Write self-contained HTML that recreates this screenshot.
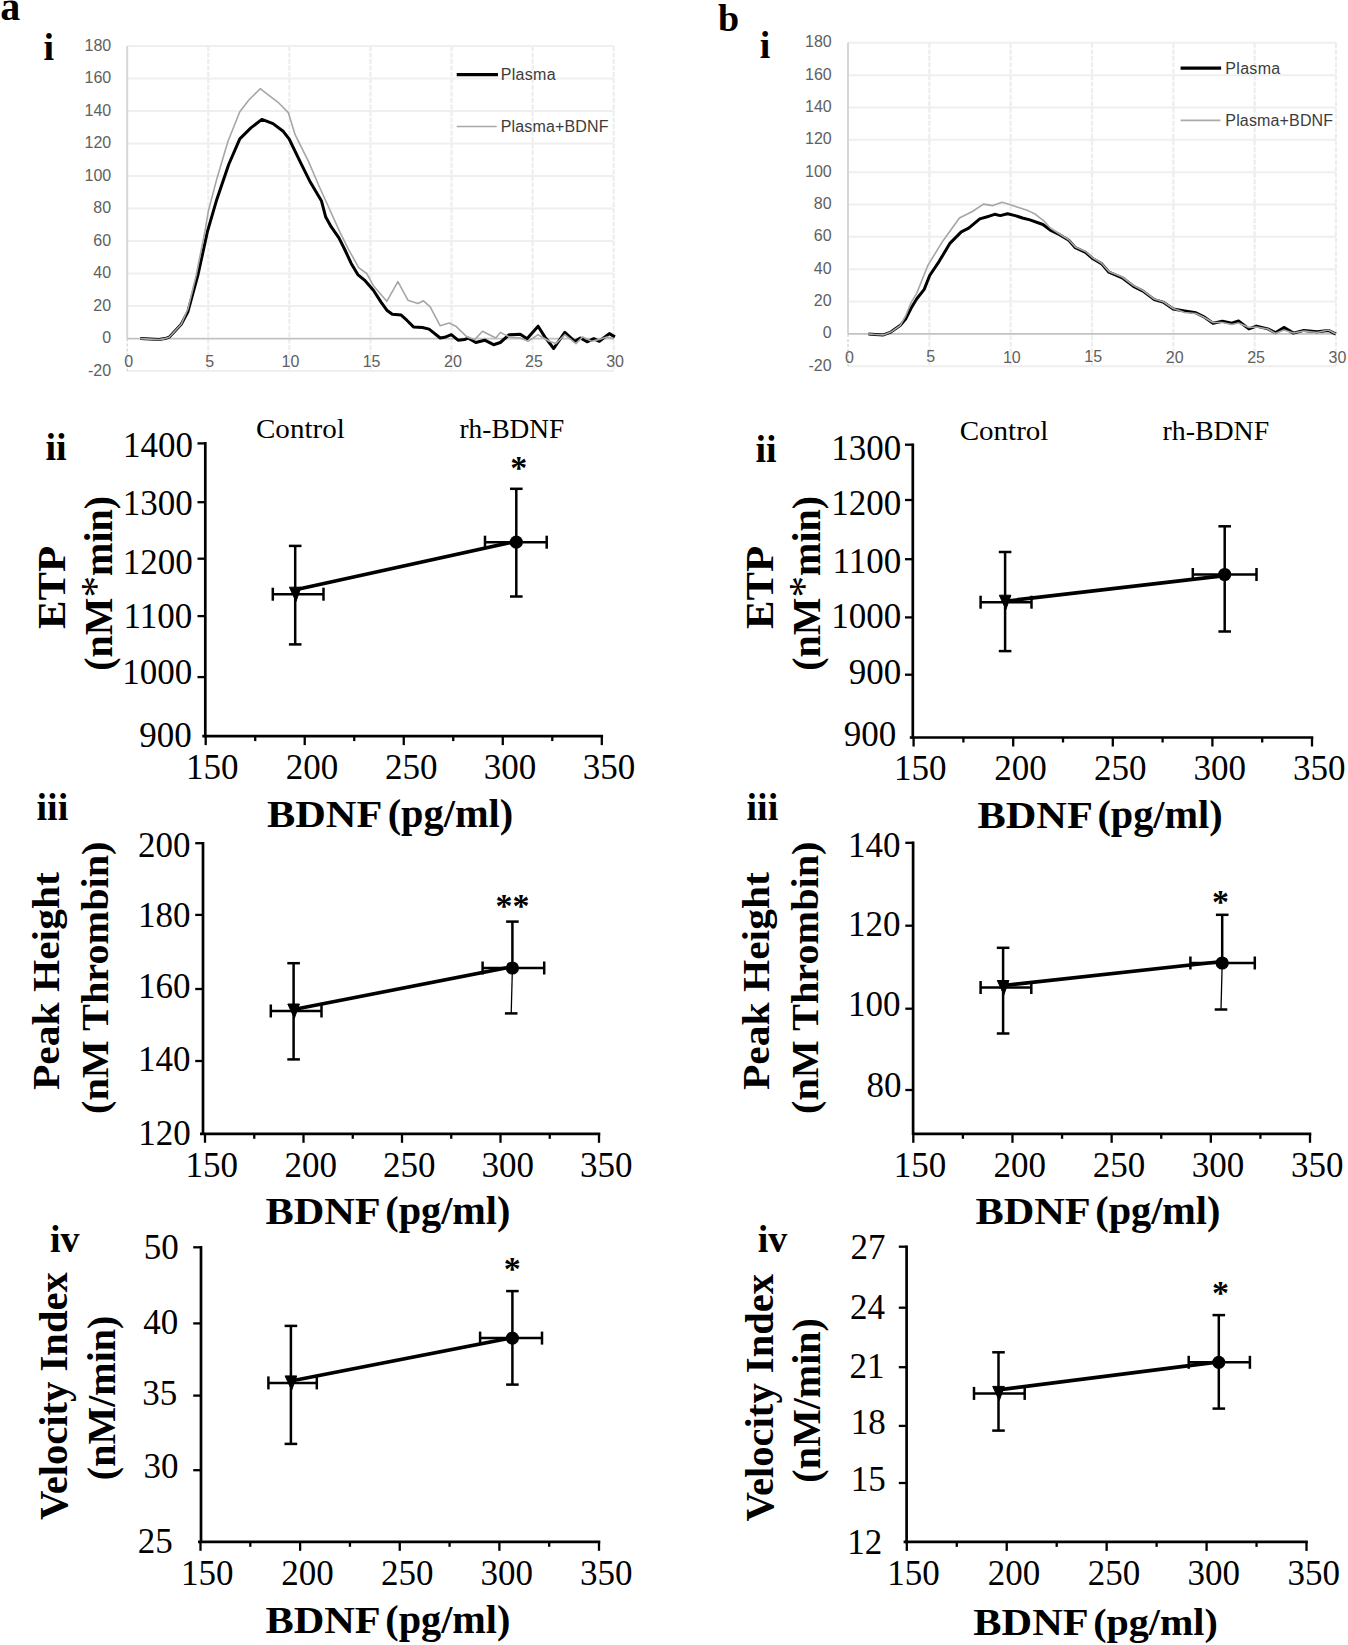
<!DOCTYPE html>
<html><head><meta charset="utf-8"><title>Figure</title>
<style>
html,body{margin:0;padding:0;background:#fff;}
body{width:1348px;height:1645px;overflow:hidden;}
svg{display:block;}

</style></head>
<body>
<div id="w"><svg width="1348" height="1645" viewBox="0 0 1348 1645">
<rect width="1348" height="1645" fill="#fff"/>
<line x1="127.2" y1="371.11" x2="613.7" y2="371.11" stroke="#efefef" stroke-width="2"/>
<line x1="127.2" y1="306.09" x2="613.7" y2="306.09" stroke="#efefef" stroke-width="2"/>
<line x1="127.2" y1="273.58" x2="613.7" y2="273.58" stroke="#efefef" stroke-width="2"/>
<line x1="127.2" y1="241.07" x2="613.7" y2="241.07" stroke="#efefef" stroke-width="2"/>
<line x1="127.2" y1="208.56" x2="613.7" y2="208.56" stroke="#efefef" stroke-width="2"/>
<line x1="127.2" y1="176.04" x2="613.7" y2="176.04" stroke="#efefef" stroke-width="2"/>
<line x1="127.2" y1="143.53" x2="613.7" y2="143.53" stroke="#efefef" stroke-width="2"/>
<line x1="127.2" y1="111.02" x2="613.7" y2="111.02" stroke="#efefef" stroke-width="2"/>
<line x1="127.2" y1="78.51" x2="613.7" y2="78.51" stroke="#efefef" stroke-width="2"/>
<line x1="127.2" y1="46" x2="613.7" y2="46" stroke="#efefef" stroke-width="2"/>
<line x1="208.28" y1="46" x2="208.28" y2="371.1" stroke="#ededed" stroke-width="2.2" stroke-dasharray="5,1.5"/>
<line x1="289.37" y1="46" x2="289.37" y2="371.1" stroke="#ededed" stroke-width="2.2" stroke-dasharray="5,1.5"/>
<line x1="370.45" y1="46" x2="370.45" y2="371.1" stroke="#ededed" stroke-width="2.2" stroke-dasharray="5,1.5"/>
<line x1="451.53" y1="46" x2="451.53" y2="371.1" stroke="#ededed" stroke-width="2.2" stroke-dasharray="5,1.5"/>
<line x1="532.62" y1="46" x2="532.62" y2="371.1" stroke="#ededed" stroke-width="2.2" stroke-dasharray="5,1.5"/>
<line x1="613.7" y1="46" x2="613.7" y2="371.1" stroke="#ededed" stroke-width="2.2" stroke-dasharray="5,1.5"/>
<line x1="127.2" y1="46" x2="127.2" y2="338.6" stroke="#d6d6d6" stroke-width="2"/>
<line x1="127.2" y1="338.6" x2="127.2" y2="371.1" stroke="#d4d4d4" stroke-width="1.3" stroke-dasharray="3,2"/>
<line x1="127.2" y1="338.6" x2="613.7" y2="338.6" stroke="#c2c2c2" stroke-width="1.7"/>
<polyline points="140.2,338.6 158.9,339.6 165,338.6 169.1,337.2 181.1,324.5 187.9,311.7 198.1,274.3 207.4,231.7 216.8,199.4 228.7,164.5 239.8,138.9 250.9,127.9 261.9,119.4 273,123.6 283.2,131.3 289.1,138.9 300.2,161.9 310.4,182.3 321.5,201.1 325.6,216.7 331.1,226.7 338.9,237.9 344.5,249 351.2,263.4 357.8,274.6 364.5,280.1 373.4,290.2 381.2,302.4 386.8,310.2 392.3,314.2 401.2,315.1 406.8,320.2 413.5,326.9 422.4,327.5 429.1,329.1 440.2,338 444.6,337.3 451.3,334.7 458,340.2 464.7,339.6 468,338 475.8,342.5 484.7,340.2 493.6,344.7 500.3,342.5 509.2,334.7 520.3,334.2 527,338.7 538.1,326.2 544.8,336.9 553.7,348.5 564.8,332.4 574.8,341.3 580.4,338 587.1,341.8 593.8,338.7 599.3,341.3 609.3,333.6 614.9,336.9" fill="none" stroke="#000" stroke-width="3" stroke-linejoin="round"/>
<polyline points="140.2,338.6 158.9,339.6 165,338.6 169.1,337.2 181.1,324.5 187.9,309 196,276 204.9,231.7 208.3,211.3 216.8,178.9 227.9,141.5 239.8,111.7 249.1,99.8 260.2,88.7 267.9,94.7 278.1,102.3 288.3,112.6 295.1,134.7 308.7,161.9 318.9,185.7 327.4,204.5 340,232.3 348.9,250.1 358.9,267.9 366.7,273.5 373.4,285.7 386.8,301.3 397.9,281.7 407.9,300.2 417.9,303.5 423.5,300.8 430.2,306.8 440.2,325.8 449.1,323.1 455.8,326.2 466.9,336.9 474.7,339.6 482.5,331.3 495.8,338 500.3,332.4 509.2,336.9 520.3,338 528.1,341.3 538.1,334.7 549.2,341.3 555.9,343.6 564.8,334.7 576,343.6 582.6,336.9 591.5,341.3 600.4,339.1 607.1,336.9 613.8,338.7" fill="none" stroke="#a6a6a6" stroke-width="1.6" stroke-linejoin="round"/>
<line x1="456.7" y1="74.7" x2="498" y2="74.7" stroke="#000" stroke-width="3.3"/>
<line x1="456.7" y1="126.5" x2="496.7" y2="126.5" stroke="#a9a9a9" stroke-width="1.7"/>
<line x1="848" y1="366.24" x2="1336" y2="366.24" stroke="#efefef" stroke-width="2"/>
<line x1="848" y1="301.56" x2="1336" y2="301.56" stroke="#efefef" stroke-width="2"/>
<line x1="848" y1="269.21" x2="1336" y2="269.21" stroke="#efefef" stroke-width="2"/>
<line x1="848" y1="236.87" x2="1336" y2="236.87" stroke="#efefef" stroke-width="2"/>
<line x1="848" y1="204.52" x2="1336" y2="204.52" stroke="#efefef" stroke-width="2"/>
<line x1="848" y1="172.18" x2="1336" y2="172.18" stroke="#efefef" stroke-width="2"/>
<line x1="848" y1="139.83" x2="1336" y2="139.83" stroke="#efefef" stroke-width="2"/>
<line x1="848" y1="107.49" x2="1336" y2="107.49" stroke="#efefef" stroke-width="2"/>
<line x1="848" y1="75.14" x2="1336" y2="75.14" stroke="#efefef" stroke-width="2"/>
<line x1="848" y1="42.8" x2="1336" y2="42.8" stroke="#efefef" stroke-width="2"/>
<line x1="929.33" y1="42.8" x2="929.33" y2="366.2" stroke="#ededed" stroke-width="2.2" stroke-dasharray="5,1.5"/>
<line x1="1010.67" y1="42.8" x2="1010.67" y2="366.2" stroke="#ededed" stroke-width="2.2" stroke-dasharray="5,1.5"/>
<line x1="1092" y1="42.8" x2="1092" y2="366.2" stroke="#ededed" stroke-width="2.2" stroke-dasharray="5,1.5"/>
<line x1="1173.33" y1="42.8" x2="1173.33" y2="366.2" stroke="#ededed" stroke-width="2.2" stroke-dasharray="5,1.5"/>
<line x1="1254.67" y1="42.8" x2="1254.67" y2="366.2" stroke="#ededed" stroke-width="2.2" stroke-dasharray="5,1.5"/>
<line x1="1336" y1="42.8" x2="1336" y2="366.2" stroke="#ededed" stroke-width="2.2" stroke-dasharray="5,1.5"/>
<line x1="848" y1="42.8" x2="848" y2="333.9" stroke="#d6d6d6" stroke-width="2"/>
<line x1="848" y1="333.9" x2="848" y2="366.2" stroke="#d4d4d4" stroke-width="1.3" stroke-dasharray="3,2"/>
<line x1="848" y1="333.9" x2="1336" y2="333.9" stroke="#c2c2c2" stroke-width="1.7"/>
<polyline points="868.5,333.9 875,334.5 883.4,334.9 890.8,332.1 900.1,325.6 905.6,319.1 911.2,308 916.8,298.7 924.2,289.4 929.7,275.5 939,261.6 950.1,243.1 961.3,231.9 968.7,228.2 979.8,218.9 989.1,216.2 994.7,214.3 1000.2,215.6 1007.6,213.8 1015.1,215.6 1022.5,218 1029.9,219.9 1042.9,224.5 1050.3,230.1 1059.6,234.7 1068.8,240.3 1075.3,247.7 1085.5,252.3 1093,258.8 1101.4,263.6 1108.9,272.2 1122.2,277.8 1133.5,286.3 1143,291.1 1154.3,299.6 1163.8,302.4 1173.2,309 1184.6,310.9 1195.9,312.8 1203.5,316.6 1213,323.2 1222.4,321.3 1231.9,323.2 1238.5,321 1248.9,328.9 1256.5,326.1 1267.8,328.9 1275.4,332.7 1283.9,327.4 1293.4,333.1 1303.8,330.4 1317,331.8 1328.4,330.4 1335.9,334.2" fill="none" stroke="#000" stroke-width="3" stroke-linejoin="round"/>
<polyline points="868.5,333.9 875,334.5 883.4,334.9 890.8,332.1 900.1,325.6 905.6,316 911.2,302.4 916.8,293.1 927.9,265.3 942.7,241.2 959.4,218 972.4,211.5 983.5,204.1 992.8,205.6 1002.1,202.3 1011.3,205 1016.9,206.9 1028,210.6 1035.5,214.3 1044.7,221.7 1050.3,228 1059.6,234 1068.8,239.8 1075.3,247 1085.5,251.5 1093,258 1101.4,263 1108.9,271.5 1122.2,277 1133.5,285.5 1143,290.5 1154.3,299 1163.8,302 1173.2,308.5 1184.6,312.5 1195.9,313.5 1203.5,317 1213,322.5 1222.4,322.5 1231.9,324.5 1238.5,323 1248.9,327.5 1256.5,327 1267.8,329 1275.4,333.5 1283.9,330 1293.4,333 1303.8,331 1317,332.5 1328.4,330 1335.9,334" fill="none" stroke="#a6a6a6" stroke-width="1.6" stroke-linejoin="round"/>
<line x1="1180.6" y1="68.1" x2="1221.1" y2="68.1" stroke="#000" stroke-width="3.3"/>
<line x1="1180.6" y1="120.3" x2="1220.4" y2="120.3" stroke="#a9a9a9" stroke-width="1.7"/>
<line x1="205.3" y1="442.1" x2="205.3" y2="737.4" stroke="#000" stroke-width="2.7"/>
<line x1="202.3" y1="736.1" x2="603.1" y2="736.1" stroke="#000" stroke-width="2.7"/>
<line x1="197.5" y1="443.4" x2="205.3" y2="443.4" stroke="#000" stroke-width="2.3"/>
<line x1="197.5" y1="502.2" x2="205.3" y2="502.2" stroke="#000" stroke-width="2.3"/>
<line x1="197.5" y1="558.7" x2="205.3" y2="558.7" stroke="#000" stroke-width="2.3"/>
<line x1="197.5" y1="616.1" x2="205.3" y2="616.1" stroke="#000" stroke-width="2.3"/>
<line x1="197.5" y1="677.1" x2="205.3" y2="677.1" stroke="#000" stroke-width="2.3"/>
<line x1="205.7" y1="736.1" x2="205.7" y2="745.1" stroke="#000" stroke-width="2.3"/>
<line x1="255.21" y1="736.1" x2="255.21" y2="741.1" stroke="#000" stroke-width="2.3"/>
<line x1="304.72" y1="736.1" x2="304.72" y2="745.1" stroke="#000" stroke-width="2.3"/>
<line x1="354.24" y1="736.1" x2="354.24" y2="741.1" stroke="#000" stroke-width="2.3"/>
<line x1="403.75" y1="736.1" x2="403.75" y2="745.1" stroke="#000" stroke-width="2.3"/>
<line x1="453.26" y1="736.1" x2="453.26" y2="741.1" stroke="#000" stroke-width="2.3"/>
<line x1="502.77" y1="736.1" x2="502.77" y2="745.1" stroke="#000" stroke-width="2.3"/>
<line x1="552.29" y1="736.1" x2="552.29" y2="741.1" stroke="#000" stroke-width="2.3"/>
<line x1="601.8" y1="736.1" x2="601.8" y2="745.1" stroke="#000" stroke-width="2.3"/>
<line x1="295.5" y1="589.7" x2="516.3" y2="541.3" stroke="#000" stroke-width="3.6"/>
<line x1="295.2" y1="545.9" x2="295.2" y2="644.4" stroke="#000" stroke-width="2.5"/>
<line x1="288.9" y1="644.4" x2="301.5" y2="644.4" stroke="#000" stroke-width="2.5"/>
<line x1="288.9" y1="545.9" x2="301.5" y2="545.9" stroke="#000" stroke-width="2.5"/>
<line x1="272.8" y1="594.2" x2="323.5" y2="594.2" stroke="#000" stroke-width="2.5"/>
<line x1="272.8" y1="587.7" x2="272.8" y2="600.7" stroke="#000" stroke-width="2.5"/>
<line x1="323.5" y1="587.7" x2="323.5" y2="600.7" stroke="#000" stroke-width="2.5"/>
<line x1="516.3" y1="488.8" x2="516.3" y2="596.5" stroke="#000" stroke-width="2.5"/>
<line x1="510" y1="596.5" x2="522.6" y2="596.5" stroke="#000" stroke-width="2.5"/>
<line x1="510" y1="488.8" x2="522.6" y2="488.8" stroke="#000" stroke-width="2.5"/>
<line x1="485" y1="542.2" x2="546.7" y2="542.2" stroke="#000" stroke-width="2.5"/>
<line x1="485" y1="535.7" x2="485" y2="548.7" stroke="#000" stroke-width="2.5"/>
<line x1="546.7" y1="535.7" x2="546.7" y2="548.7" stroke="#000" stroke-width="2.5"/>
<path d="M289.4,587.2 L301,587.2 L296,601.4 Z" fill="#000" stroke="#000" stroke-width="1" stroke-linejoin="round"/>
<circle cx="516.3" cy="542.2" r="6.6" fill="#000"/>
<line x1="203" y1="841.9" x2="203" y2="1135.1" stroke="#000" stroke-width="2.7"/>
<line x1="200" y1="1133.8" x2="600.3" y2="1133.8" stroke="#000" stroke-width="2.7"/>
<line x1="195.2" y1="843.2" x2="203" y2="843.2" stroke="#000" stroke-width="2.3"/>
<line x1="195.2" y1="914.9" x2="203" y2="914.9" stroke="#000" stroke-width="2.3"/>
<line x1="195.2" y1="989" x2="203" y2="989" stroke="#000" stroke-width="2.3"/>
<line x1="195.2" y1="1061" x2="203" y2="1061" stroke="#000" stroke-width="2.3"/>
<line x1="205" y1="1133.8" x2="205" y2="1142.8" stroke="#000" stroke-width="2.3"/>
<line x1="254.25" y1="1133.8" x2="254.25" y2="1138.8" stroke="#000" stroke-width="2.3"/>
<line x1="303.5" y1="1133.8" x2="303.5" y2="1142.8" stroke="#000" stroke-width="2.3"/>
<line x1="352.75" y1="1133.8" x2="352.75" y2="1138.8" stroke="#000" stroke-width="2.3"/>
<line x1="402" y1="1133.8" x2="402" y2="1142.8" stroke="#000" stroke-width="2.3"/>
<line x1="451.25" y1="1133.8" x2="451.25" y2="1138.8" stroke="#000" stroke-width="2.3"/>
<line x1="500.5" y1="1133.8" x2="500.5" y2="1142.8" stroke="#000" stroke-width="2.3"/>
<line x1="549.75" y1="1133.8" x2="549.75" y2="1138.8" stroke="#000" stroke-width="2.3"/>
<line x1="599" y1="1133.8" x2="599" y2="1142.8" stroke="#000" stroke-width="2.3"/>
<line x1="293.6" y1="1009.6" x2="512.4" y2="966.6" stroke="#000" stroke-width="3.6"/>
<line x1="293.6" y1="963.2" x2="293.6" y2="1059.4" stroke="#000" stroke-width="2.5"/>
<line x1="287.3" y1="1059.4" x2="299.9" y2="1059.4" stroke="#000" stroke-width="2.5"/>
<line x1="287.3" y1="963.2" x2="299.9" y2="963.2" stroke="#000" stroke-width="2.5"/>
<line x1="270.8" y1="1011" x2="321.5" y2="1011" stroke="#000" stroke-width="2.5"/>
<line x1="270.8" y1="1004.5" x2="270.8" y2="1017.5" stroke="#000" stroke-width="2.5"/>
<line x1="321.5" y1="1004.5" x2="321.5" y2="1017.5" stroke="#000" stroke-width="2.5"/>
<line x1="512.4" y1="921.6" x2="512.4" y2="968" stroke="#000" stroke-width="2.5"/>
<line x1="512.4" y1="968" x2="511.2" y2="1013.4" stroke="#000" stroke-width="1.3"/>
<line x1="504.9" y1="1013.4" x2="517.5" y2="1013.4" stroke="#000" stroke-width="2.5"/>
<line x1="506.1" y1="921.6" x2="518.7" y2="921.6" stroke="#000" stroke-width="2.5"/>
<line x1="482.6" y1="968" x2="544.2" y2="968" stroke="#000" stroke-width="2.5"/>
<line x1="482.6" y1="961.5" x2="482.6" y2="974.5" stroke="#000" stroke-width="2.5"/>
<line x1="544.2" y1="961.5" x2="544.2" y2="974.5" stroke="#000" stroke-width="2.5"/>
<path d="M287.8,1004 L299.4,1004 L294.4,1018.2 Z" fill="#000" stroke="#000" stroke-width="1" stroke-linejoin="round"/>
<circle cx="512.4" cy="968" r="6.6" fill="#000"/>
<line x1="201" y1="1246" x2="201" y2="1543.1" stroke="#000" stroke-width="2.7"/>
<line x1="198" y1="1541.8" x2="600.3" y2="1541.8" stroke="#000" stroke-width="2.7"/>
<line x1="193.2" y1="1247.3" x2="201" y2="1247.3" stroke="#000" stroke-width="2.3"/>
<line x1="193.2" y1="1323.4" x2="201" y2="1323.4" stroke="#000" stroke-width="2.3"/>
<line x1="193.2" y1="1395.6" x2="201" y2="1395.6" stroke="#000" stroke-width="2.3"/>
<line x1="193.2" y1="1470.2" x2="201" y2="1470.2" stroke="#000" stroke-width="2.3"/>
<line x1="200.5" y1="1541.8" x2="200.5" y2="1550.8" stroke="#000" stroke-width="2.3"/>
<line x1="250.31" y1="1541.8" x2="250.31" y2="1546.8" stroke="#000" stroke-width="2.3"/>
<line x1="300.12" y1="1541.8" x2="300.12" y2="1550.8" stroke="#000" stroke-width="2.3"/>
<line x1="349.94" y1="1541.8" x2="349.94" y2="1546.8" stroke="#000" stroke-width="2.3"/>
<line x1="399.75" y1="1541.8" x2="399.75" y2="1550.8" stroke="#000" stroke-width="2.3"/>
<line x1="449.56" y1="1541.8" x2="449.56" y2="1546.8" stroke="#000" stroke-width="2.3"/>
<line x1="499.38" y1="1541.8" x2="499.38" y2="1550.8" stroke="#000" stroke-width="2.3"/>
<line x1="549.19" y1="1541.8" x2="549.19" y2="1546.8" stroke="#000" stroke-width="2.3"/>
<line x1="599" y1="1541.8" x2="599" y2="1550.8" stroke="#000" stroke-width="2.3"/>
<line x1="290.9" y1="1381.1" x2="512.4" y2="1337.6" stroke="#000" stroke-width="3.6"/>
<line x1="290.9" y1="1325.9" x2="290.9" y2="1443.9" stroke="#000" stroke-width="2.5"/>
<line x1="284.6" y1="1443.9" x2="297.2" y2="1443.9" stroke="#000" stroke-width="2.5"/>
<line x1="284.6" y1="1325.9" x2="297.2" y2="1325.9" stroke="#000" stroke-width="2.5"/>
<line x1="268.4" y1="1382.9" x2="316.8" y2="1382.9" stroke="#000" stroke-width="2.5"/>
<line x1="268.4" y1="1376.4" x2="268.4" y2="1389.4" stroke="#000" stroke-width="2.5"/>
<line x1="316.8" y1="1376.4" x2="316.8" y2="1389.4" stroke="#000" stroke-width="2.5"/>
<line x1="512.4" y1="1291.1" x2="512.4" y2="1384.6" stroke="#000" stroke-width="2.5"/>
<line x1="506.1" y1="1384.6" x2="518.7" y2="1384.6" stroke="#000" stroke-width="2.5"/>
<line x1="506.1" y1="1291.1" x2="518.7" y2="1291.1" stroke="#000" stroke-width="2.5"/>
<line x1="480.1" y1="1338.1" x2="542" y2="1338.1" stroke="#000" stroke-width="2.5"/>
<line x1="480.1" y1="1331.6" x2="480.1" y2="1344.6" stroke="#000" stroke-width="2.5"/>
<line x1="542" y1="1331.6" x2="542" y2="1344.6" stroke="#000" stroke-width="2.5"/>
<path d="M285.1,1375.9 L296.7,1375.9 L291.7,1390.1 Z" fill="#000" stroke="#000" stroke-width="1" stroke-linejoin="round"/>
<circle cx="512.4" cy="1338.1" r="6.6" fill="#000"/>
<line x1="912.8" y1="443.4" x2="912.8" y2="738.8" stroke="#000" stroke-width="2.7"/>
<line x1="909.8" y1="737.5" x2="1313.3" y2="737.5" stroke="#000" stroke-width="2.7"/>
<line x1="905" y1="444.7" x2="912.8" y2="444.7" stroke="#000" stroke-width="2.3"/>
<line x1="905" y1="500" x2="912.8" y2="500" stroke="#000" stroke-width="2.3"/>
<line x1="905" y1="559.2" x2="912.8" y2="559.2" stroke="#000" stroke-width="2.3"/>
<line x1="905" y1="617.4" x2="912.8" y2="617.4" stroke="#000" stroke-width="2.3"/>
<line x1="905" y1="674.7" x2="912.8" y2="674.7" stroke="#000" stroke-width="2.3"/>
<line x1="913.6" y1="737.5" x2="913.6" y2="746.5" stroke="#000" stroke-width="2.3"/>
<line x1="963.4" y1="737.5" x2="963.4" y2="742.5" stroke="#000" stroke-width="2.3"/>
<line x1="1013.2" y1="737.5" x2="1013.2" y2="746.5" stroke="#000" stroke-width="2.3"/>
<line x1="1063" y1="737.5" x2="1063" y2="742.5" stroke="#000" stroke-width="2.3"/>
<line x1="1112.8" y1="737.5" x2="1112.8" y2="746.5" stroke="#000" stroke-width="2.3"/>
<line x1="1162.6" y1="737.5" x2="1162.6" y2="742.5" stroke="#000" stroke-width="2.3"/>
<line x1="1212.4" y1="737.5" x2="1212.4" y2="746.5" stroke="#000" stroke-width="2.3"/>
<line x1="1262.2" y1="737.5" x2="1262.2" y2="742.5" stroke="#000" stroke-width="2.3"/>
<line x1="1312" y1="737.5" x2="1312" y2="746.5" stroke="#000" stroke-width="2.3"/>
<line x1="1005.1" y1="601.2" x2="1224.7" y2="575.6" stroke="#000" stroke-width="3.6"/>
<line x1="1005.1" y1="552" x2="1005.1" y2="651.1" stroke="#000" stroke-width="2.5"/>
<line x1="998.8" y1="651.1" x2="1011.4" y2="651.1" stroke="#000" stroke-width="2.5"/>
<line x1="998.8" y1="552" x2="1011.4" y2="552" stroke="#000" stroke-width="2.5"/>
<line x1="980.6" y1="602.2" x2="1031.5" y2="602.2" stroke="#000" stroke-width="2.5"/>
<line x1="980.6" y1="595.7" x2="980.6" y2="608.7" stroke="#000" stroke-width="2.5"/>
<line x1="1031.5" y1="595.7" x2="1031.5" y2="608.7" stroke="#000" stroke-width="2.5"/>
<line x1="1224.7" y1="526.3" x2="1224.7" y2="631.5" stroke="#000" stroke-width="2.5"/>
<line x1="1218.4" y1="631.5" x2="1231" y2="631.5" stroke="#000" stroke-width="2.5"/>
<line x1="1218.4" y1="526.3" x2="1231" y2="526.3" stroke="#000" stroke-width="2.5"/>
<line x1="1192.8" y1="574.5" x2="1256.5" y2="574.5" stroke="#000" stroke-width="2.5"/>
<line x1="1192.8" y1="568" x2="1192.8" y2="581" stroke="#000" stroke-width="2.5"/>
<line x1="1256.5" y1="568" x2="1256.5" y2="581" stroke="#000" stroke-width="2.5"/>
<path d="M999.3,595.2 L1010.9,595.2 L1005.9,609.4 Z" fill="#000" stroke="#000" stroke-width="1" stroke-linejoin="round"/>
<circle cx="1224.7" cy="574.5" r="6.6" fill="#000"/>
<line x1="913.1" y1="841.5" x2="913.1" y2="1135.1" stroke="#000" stroke-width="2.7"/>
<line x1="913.1" y1="1133.8" x2="1311.3" y2="1133.8" stroke="#000" stroke-width="2.7"/>
<line x1="905.3" y1="842.8" x2="913.1" y2="842.8" stroke="#000" stroke-width="2.3"/>
<line x1="905.3" y1="925.7" x2="913.1" y2="925.7" stroke="#000" stroke-width="2.3"/>
<line x1="905.3" y1="1008.7" x2="913.1" y2="1008.7" stroke="#000" stroke-width="2.3"/>
<line x1="905.3" y1="1090" x2="913.1" y2="1090" stroke="#000" stroke-width="2.3"/>
<line x1="913.3" y1="1133.8" x2="913.3" y2="1142.8" stroke="#000" stroke-width="2.3"/>
<line x1="962.89" y1="1133.8" x2="962.89" y2="1138.8" stroke="#000" stroke-width="2.3"/>
<line x1="1012.47" y1="1133.8" x2="1012.47" y2="1142.8" stroke="#000" stroke-width="2.3"/>
<line x1="1062.06" y1="1133.8" x2="1062.06" y2="1138.8" stroke="#000" stroke-width="2.3"/>
<line x1="1111.65" y1="1133.8" x2="1111.65" y2="1142.8" stroke="#000" stroke-width="2.3"/>
<line x1="1161.24" y1="1133.8" x2="1161.24" y2="1138.8" stroke="#000" stroke-width="2.3"/>
<line x1="1210.83" y1="1133.8" x2="1210.83" y2="1142.8" stroke="#000" stroke-width="2.3"/>
<line x1="1260.41" y1="1133.8" x2="1260.41" y2="1138.8" stroke="#000" stroke-width="2.3"/>
<line x1="1310" y1="1133.8" x2="1310" y2="1142.8" stroke="#000" stroke-width="2.3"/>
<line x1="1003.1" y1="985.5" x2="1222.2" y2="961.5" stroke="#000" stroke-width="3.6"/>
<line x1="1003.1" y1="947.8" x2="1003.1" y2="1033.5" stroke="#000" stroke-width="2.5"/>
<line x1="996.8" y1="1033.5" x2="1009.4" y2="1033.5" stroke="#000" stroke-width="2.5"/>
<line x1="996.8" y1="947.8" x2="1009.4" y2="947.8" stroke="#000" stroke-width="2.5"/>
<line x1="980.6" y1="987.5" x2="1031.3" y2="987.5" stroke="#000" stroke-width="2.5"/>
<line x1="980.6" y1="981" x2="980.6" y2="994" stroke="#000" stroke-width="2.5"/>
<line x1="1031.3" y1="981" x2="1031.3" y2="994" stroke="#000" stroke-width="2.5"/>
<line x1="1222.2" y1="914.8" x2="1222.2" y2="963" stroke="#000" stroke-width="2.5"/>
<line x1="1222.2" y1="963" x2="1221" y2="1009.5" stroke="#000" stroke-width="1.3"/>
<line x1="1214.7" y1="1009.5" x2="1227.3" y2="1009.5" stroke="#000" stroke-width="2.5"/>
<line x1="1215.9" y1="914.8" x2="1228.5" y2="914.8" stroke="#000" stroke-width="2.5"/>
<line x1="1190.4" y1="963" x2="1254.8" y2="963" stroke="#000" stroke-width="2.5"/>
<line x1="1190.4" y1="956.5" x2="1190.4" y2="969.5" stroke="#000" stroke-width="2.5"/>
<line x1="1254.8" y1="956.5" x2="1254.8" y2="969.5" stroke="#000" stroke-width="2.5"/>
<path d="M997.3,980.5 L1008.9,980.5 L1003.9,994.7 Z" fill="#000" stroke="#000" stroke-width="1" stroke-linejoin="round"/>
<circle cx="1222.2" cy="963" r="6.6" fill="#000"/>
<line x1="906.6" y1="1245.4" x2="906.6" y2="1543.2" stroke="#000" stroke-width="2.7"/>
<line x1="903.6" y1="1541.9" x2="1307.8" y2="1541.9" stroke="#000" stroke-width="2.7"/>
<line x1="898.8" y1="1246.7" x2="906.6" y2="1246.7" stroke="#000" stroke-width="2.3"/>
<line x1="898.8" y1="1307.7" x2="906.6" y2="1307.7" stroke="#000" stroke-width="2.3"/>
<line x1="898.8" y1="1367.2" x2="906.6" y2="1367.2" stroke="#000" stroke-width="2.3"/>
<line x1="898.8" y1="1425.9" x2="906.6" y2="1425.9" stroke="#000" stroke-width="2.3"/>
<line x1="898.8" y1="1483" x2="906.6" y2="1483" stroke="#000" stroke-width="2.3"/>
<line x1="906.8" y1="1541.9" x2="906.8" y2="1550.9" stroke="#000" stroke-width="2.3"/>
<line x1="956.76" y1="1541.9" x2="956.76" y2="1546.9" stroke="#000" stroke-width="2.3"/>
<line x1="1006.72" y1="1541.9" x2="1006.72" y2="1550.9" stroke="#000" stroke-width="2.3"/>
<line x1="1056.69" y1="1541.9" x2="1056.69" y2="1546.9" stroke="#000" stroke-width="2.3"/>
<line x1="1106.65" y1="1541.9" x2="1106.65" y2="1550.9" stroke="#000" stroke-width="2.3"/>
<line x1="1156.61" y1="1541.9" x2="1156.61" y2="1546.9" stroke="#000" stroke-width="2.3"/>
<line x1="1206.58" y1="1541.9" x2="1206.58" y2="1550.9" stroke="#000" stroke-width="2.3"/>
<line x1="1256.54" y1="1541.9" x2="1256.54" y2="1546.9" stroke="#000" stroke-width="2.3"/>
<line x1="1306.5" y1="1541.9" x2="1306.5" y2="1550.9" stroke="#000" stroke-width="2.3"/>
<line x1="998.5" y1="1389.9" x2="1218.8" y2="1361.9" stroke="#000" stroke-width="3.6"/>
<line x1="998.5" y1="1352.3" x2="998.5" y2="1430.6" stroke="#000" stroke-width="2.5"/>
<line x1="992.2" y1="1430.6" x2="1004.8" y2="1430.6" stroke="#000" stroke-width="2.5"/>
<line x1="992.2" y1="1352.3" x2="1004.8" y2="1352.3" stroke="#000" stroke-width="2.5"/>
<line x1="974" y1="1393.4" x2="1024.7" y2="1393.4" stroke="#000" stroke-width="2.5"/>
<line x1="974" y1="1386.9" x2="974" y2="1399.9" stroke="#000" stroke-width="2.5"/>
<line x1="1024.7" y1="1386.9" x2="1024.7" y2="1399.9" stroke="#000" stroke-width="2.5"/>
<line x1="1218.8" y1="1315.1" x2="1218.8" y2="1408.6" stroke="#000" stroke-width="2.5"/>
<line x1="1212.5" y1="1408.6" x2="1225.1" y2="1408.6" stroke="#000" stroke-width="2.5"/>
<line x1="1212.5" y1="1315.1" x2="1225.1" y2="1315.1" stroke="#000" stroke-width="2.5"/>
<line x1="1188.7" y1="1362.3" x2="1249.9" y2="1362.3" stroke="#000" stroke-width="2.5"/>
<line x1="1188.7" y1="1355.8" x2="1188.7" y2="1368.8" stroke="#000" stroke-width="2.5"/>
<line x1="1249.9" y1="1355.8" x2="1249.9" y2="1368.8" stroke="#000" stroke-width="2.5"/>
<path d="M992.7,1386.4 L1004.3,1386.4 L999.3,1400.6 Z" fill="#000" stroke="#000" stroke-width="1" stroke-linejoin="round"/>
<circle cx="1218.8" cy="1362.3" r="6.6" fill="#000"/>
<text x="88" y="375.61" style='font-family:"Liberation Sans", sans-serif;font-size:16px;font-weight:normal;fill:#606060;'>-20</text>
<text x="102.25" y="343.1" style='font-family:"Liberation Sans", sans-serif;font-size:16px;font-weight:normal;fill:#606060;'>0</text>
<text x="93.25" y="310.59" style='font-family:"Liberation Sans", sans-serif;font-size:16px;font-weight:normal;fill:#606060;'>20</text>
<text x="93.25" y="278.08" style='font-family:"Liberation Sans", sans-serif;font-size:16px;font-weight:normal;fill:#606060;'>40</text>
<text x="93.25" y="245.57" style='font-family:"Liberation Sans", sans-serif;font-size:16px;font-weight:normal;fill:#606060;'>60</text>
<text x="93.25" y="213.06" style='font-family:"Liberation Sans", sans-serif;font-size:16px;font-weight:normal;fill:#606060;'>80</text>
<text x="84.5" y="180.54" style='font-family:"Liberation Sans", sans-serif;font-size:16px;font-weight:normal;fill:#606060;'>100</text>
<text x="84.5" y="148.03" style='font-family:"Liberation Sans", sans-serif;font-size:16px;font-weight:normal;fill:#606060;'>120</text>
<text x="84.5" y="115.52" style='font-family:"Liberation Sans", sans-serif;font-size:16px;font-weight:normal;fill:#606060;'>140</text>
<text x="84.5" y="83.01" style='font-family:"Liberation Sans", sans-serif;font-size:16px;font-weight:normal;fill:#606060;'>160</text>
<text x="84.5" y="50.5" style='font-family:"Liberation Sans", sans-serif;font-size:16px;font-weight:normal;fill:#606060;'>180</text>
<text x="124.2" y="367.3" style='font-family:"Liberation Sans", sans-serif;font-size:16px;font-weight:normal;fill:#606060;'>0</text>
<text x="205.28" y="367.18" style='font-family:"Liberation Sans", sans-serif;font-size:16px;font-weight:normal;fill:#606060;'>5</text>
<text x="281.62" y="367.3" style='font-family:"Liberation Sans", sans-serif;font-size:16px;font-weight:normal;fill:#606060;'>10</text>
<text x="362.7" y="367.18" style='font-family:"Liberation Sans", sans-serif;font-size:16px;font-weight:normal;fill:#606060;'>15</text>
<text x="444.03" y="367.3" style='font-family:"Liberation Sans", sans-serif;font-size:16px;font-weight:normal;fill:#606060;'>20</text>
<text x="525.12" y="367.3" style='font-family:"Liberation Sans", sans-serif;font-size:16px;font-weight:normal;fill:#606060;'>25</text>
<text x="606.2" y="367.3" style='font-family:"Liberation Sans", sans-serif;font-size:16px;font-weight:normal;fill:#606060;'>30</text>
<text x="500.75" y="79.6" style='font-family:"Liberation Sans", sans-serif;font-size:16px;font-weight:normal;fill:#3c3c3c;letter-spacing:0.3px;'>Plasma</text>
<text x="500.75" y="131.6" style='font-family:"Liberation Sans", sans-serif;font-size:16px;font-weight:normal;fill:#3c3c3c;letter-spacing:0.15px;'>Plasma+BDNF</text>
<text x="808.5" y="370.74" style='font-family:"Liberation Sans", sans-serif;font-size:16px;font-weight:normal;fill:#606060;'>-20</text>
<text x="822.75" y="338.4" style='font-family:"Liberation Sans", sans-serif;font-size:16px;font-weight:normal;fill:#606060;'>0</text>
<text x="813.75" y="306.06" style='font-family:"Liberation Sans", sans-serif;font-size:16px;font-weight:normal;fill:#606060;'>20</text>
<text x="813.75" y="273.71" style='font-family:"Liberation Sans", sans-serif;font-size:16px;font-weight:normal;fill:#606060;'>40</text>
<text x="813.75" y="241.37" style='font-family:"Liberation Sans", sans-serif;font-size:16px;font-weight:normal;fill:#606060;'>60</text>
<text x="813.75" y="209.02" style='font-family:"Liberation Sans", sans-serif;font-size:16px;font-weight:normal;fill:#606060;'>80</text>
<text x="805" y="176.68" style='font-family:"Liberation Sans", sans-serif;font-size:16px;font-weight:normal;fill:#606060;'>100</text>
<text x="805" y="144.33" style='font-family:"Liberation Sans", sans-serif;font-size:16px;font-weight:normal;fill:#606060;'>120</text>
<text x="805" y="111.99" style='font-family:"Liberation Sans", sans-serif;font-size:16px;font-weight:normal;fill:#606060;'>140</text>
<text x="805" y="79.64" style='font-family:"Liberation Sans", sans-serif;font-size:16px;font-weight:normal;fill:#606060;'>160</text>
<text x="805" y="47.3" style='font-family:"Liberation Sans", sans-serif;font-size:16px;font-weight:normal;fill:#606060;'>180</text>
<text x="845" y="362.6" style='font-family:"Liberation Sans", sans-serif;font-size:16px;font-weight:normal;fill:#606060;'>0</text>
<text x="926.33" y="362.47" style='font-family:"Liberation Sans", sans-serif;font-size:16px;font-weight:normal;fill:#606060;'>5</text>
<text x="1002.92" y="362.6" style='font-family:"Liberation Sans", sans-serif;font-size:16px;font-weight:normal;fill:#606060;'>10</text>
<text x="1084.25" y="362.47" style='font-family:"Liberation Sans", sans-serif;font-size:16px;font-weight:normal;fill:#606060;'>15</text>
<text x="1165.83" y="362.6" style='font-family:"Liberation Sans", sans-serif;font-size:16px;font-weight:normal;fill:#606060;'>20</text>
<text x="1247.17" y="362.6" style='font-family:"Liberation Sans", sans-serif;font-size:16px;font-weight:normal;fill:#606060;'>25</text>
<text x="1328.5" y="362.6" style='font-family:"Liberation Sans", sans-serif;font-size:16px;font-weight:normal;fill:#606060;'>30</text>
<text x="1225.35" y="73.75" style='font-family:"Liberation Sans", sans-serif;font-size:16px;font-weight:normal;fill:#3c3c3c;letter-spacing:0.3px;'>Plasma</text>
<text x="1225.35" y="125.55" style='font-family:"Liberation Sans", sans-serif;font-size:16px;font-weight:normal;fill:#3c3c3c;letter-spacing:0.15px;'>Plasma+BDNF</text>
<text x="0.25" y="20.3" style='font-family:"Liberation Serif", serif;font-size:40px;font-weight:bold;fill:#000;'>a</text>
<text x="718" y="31.3" style='font-family:"Liberation Serif", serif;font-size:38px;font-weight:bold;fill:#000;'>b</text>
<text x="43.45" y="60" style='font-family:"Liberation Serif", serif;font-size:38px;font-weight:bold;fill:#000;'>i</text>
<text x="759.75" y="57.9" style='font-family:"Liberation Serif", serif;font-size:38px;font-weight:bold;fill:#000;'>i</text>
<text x="45.55" y="459.7" style='font-family:"Liberation Serif", serif;font-size:38px;font-weight:bold;fill:#000;'>ii</text>
<text x="755.55" y="462.3" style='font-family:"Liberation Serif", serif;font-size:38px;font-weight:bold;fill:#000;'>ii</text>
<text x="36.55" y="820.4" style='font-family:"Liberation Serif", serif;font-size:38px;font-weight:bold;fill:#000;'>iii</text>
<text x="746.55" y="820.4" style='font-family:"Liberation Serif", serif;font-size:38px;font-weight:bold;fill:#000;'>iii</text>
<text x="50.05" y="1252.4" style='font-family:"Liberation Serif", serif;font-size:38px;font-weight:bold;fill:#000;'>iv</text>
<text x="757.75" y="1252.4" style='font-family:"Liberation Serif", serif;font-size:38px;font-weight:bold;fill:#000;'>iv</text>
<text transform="translate(256,438) scale(1.0376,1)" style='font-family:"Liberation Serif", serif;font-size:28px;font-weight:normal;fill:#000;'>Control</text>
<text transform="translate(459.51,438) scale(0.9768,1)" style='font-family:"Liberation Serif", serif;font-size:28px;font-weight:normal;fill:#000;'>rh-BDNF</text>
<text transform="translate(959.7,440.4) scale(1.0376,1)" style='font-family:"Liberation Serif", serif;font-size:28px;font-weight:normal;fill:#000;'>Control</text>
<text transform="translate(1162.5,440.4) scale(0.9948,1)" style='font-family:"Liberation Serif", serif;font-size:28px;font-weight:normal;fill:#000;'>rh-BDNF</text>
<text x="186.07" y="778.9" style='font-family:"Liberation Serif", serif;font-size:35px;font-weight:normal;fill:#000;'>150</text>
<text x="285.85" y="778.9" style='font-family:"Liberation Serif", serif;font-size:35px;font-weight:normal;fill:#000;'>200</text>
<text x="384.88" y="778.9" style='font-family:"Liberation Serif", serif;font-size:35px;font-weight:normal;fill:#000;'>250</text>
<text x="483.77" y="778.9" style='font-family:"Liberation Serif", serif;font-size:35px;font-weight:normal;fill:#000;'>300</text>
<text x="582.8" y="778.9" style='font-family:"Liberation Serif", serif;font-size:35px;font-weight:normal;fill:#000;'>350</text>
<text x="123.05" y="457.35" style='font-family:"Liberation Serif", serif;font-size:35px;font-weight:normal;fill:#000;'>1400</text>
<text x="122.85" y="514.75" style='font-family:"Liberation Serif", serif;font-size:35px;font-weight:normal;fill:#000;'>1300</text>
<text x="122.65" y="573.55" style='font-family:"Liberation Serif", serif;font-size:35px;font-weight:normal;fill:#000;'>1200</text>
<text x="123.5" y="628.45" style='font-family:"Liberation Serif", serif;font-size:35px;font-weight:normal;fill:#000;'>1100</text>
<text x="122.25" y="684.35" style='font-family:"Liberation Serif", serif;font-size:35px;font-weight:normal;fill:#000;'>1000</text>
<text x="139.25" y="746.5" style='font-family:"Liberation Serif", serif;font-size:35px;font-weight:normal;fill:#000;'>900</text>
<text x="510.2" y="478.77" style='font-family:"Liberation Serif", serif;font-size:34px;font-weight:bold;fill:#000;'>*</text>
<text x="185.38" y="1176.6" style='font-family:"Liberation Serif", serif;font-size:35px;font-weight:normal;fill:#000;'>150</text>
<text x="284.62" y="1176.6" style='font-family:"Liberation Serif", serif;font-size:35px;font-weight:normal;fill:#000;'>200</text>
<text x="383.12" y="1176.6" style='font-family:"Liberation Serif", serif;font-size:35px;font-weight:normal;fill:#000;'>250</text>
<text x="481.5" y="1176.6" style='font-family:"Liberation Serif", serif;font-size:35px;font-weight:normal;fill:#000;'>300</text>
<text x="580" y="1176.6" style='font-family:"Liberation Serif", serif;font-size:35px;font-weight:normal;fill:#000;'>350</text>
<text x="138.05" y="857.2" style='font-family:"Liberation Serif", serif;font-size:35px;font-weight:normal;fill:#000;'>200</text>
<text x="138.05" y="926.9" style='font-family:"Liberation Serif", serif;font-size:35px;font-weight:normal;fill:#000;'>180</text>
<text x="138.05" y="997.5" style='font-family:"Liberation Serif", serif;font-size:35px;font-weight:normal;fill:#000;'>160</text>
<text x="138.05" y="1071" style='font-family:"Liberation Serif", serif;font-size:35px;font-weight:normal;fill:#000;'>140</text>
<text x="138.25" y="1145.2" style='font-family:"Liberation Serif", serif;font-size:35px;font-weight:normal;fill:#000;'>120</text>
<text x="495.5" y="917.12" style='font-family:"Liberation Serif", serif;font-size:34px;font-weight:bold;fill:#000;'>**</text>
<text x="180.88" y="1584.6" style='font-family:"Liberation Serif", serif;font-size:35px;font-weight:normal;fill:#000;'>150</text>
<text x="281.25" y="1584.6" style='font-family:"Liberation Serif", serif;font-size:35px;font-weight:normal;fill:#000;'>200</text>
<text x="380.88" y="1584.6" style='font-family:"Liberation Serif", serif;font-size:35px;font-weight:normal;fill:#000;'>250</text>
<text x="480.38" y="1584.6" style='font-family:"Liberation Serif", serif;font-size:35px;font-weight:normal;fill:#000;'>300</text>
<text x="580" y="1584.6" style='font-family:"Liberation Serif", serif;font-size:35px;font-weight:normal;fill:#000;'>350</text>
<text x="143.75" y="1258.85" style='font-family:"Liberation Serif", serif;font-size:35px;font-weight:normal;fill:#000;'>50</text>
<text x="143.15" y="1333.5" style='font-family:"Liberation Serif", serif;font-size:35px;font-weight:normal;fill:#000;'>40</text>
<text x="142.35" y="1405.45" style='font-family:"Liberation Serif", serif;font-size:35px;font-weight:normal;fill:#000;'>35</text>
<text x="143.45" y="1477.6" style='font-family:"Liberation Serif", serif;font-size:35px;font-weight:normal;fill:#000;'>30</text>
<text x="137.75" y="1553.45" style='font-family:"Liberation Serif", serif;font-size:35px;font-weight:normal;fill:#000;'>25</text>
<text x="503.8" y="1279.58" style='font-family:"Liberation Serif", serif;font-size:34px;font-weight:bold;fill:#000;'>*</text>
<text x="893.98" y="780.3" style='font-family:"Liberation Serif", serif;font-size:35px;font-weight:normal;fill:#000;'>150</text>
<text x="994.33" y="780.3" style='font-family:"Liberation Serif", serif;font-size:35px;font-weight:normal;fill:#000;'>200</text>
<text x="1093.92" y="780.3" style='font-family:"Liberation Serif", serif;font-size:35px;font-weight:normal;fill:#000;'>250</text>
<text x="1193.4" y="780.3" style='font-family:"Liberation Serif", serif;font-size:35px;font-weight:normal;fill:#000;'>300</text>
<text x="1293" y="780.3" style='font-family:"Liberation Serif", serif;font-size:35px;font-weight:normal;fill:#000;'>350</text>
<text x="831.35" y="459.7" style='font-family:"Liberation Serif", serif;font-size:35px;font-weight:normal;fill:#000;'>1300</text>
<text x="831.35" y="514.5" style='font-family:"Liberation Serif", serif;font-size:35px;font-weight:normal;fill:#000;'>1200</text>
<text x="832.6" y="573.2" style='font-family:"Liberation Serif", serif;font-size:35px;font-weight:normal;fill:#000;'>1100</text>
<text x="831.35" y="628" style='font-family:"Liberation Serif", serif;font-size:35px;font-weight:normal;fill:#000;'>1000</text>
<text x="848.85" y="684.1" style='font-family:"Liberation Serif", serif;font-size:35px;font-weight:normal;fill:#000;'>900</text>
<text x="843.85" y="746.4" style='font-family:"Liberation Serif", serif;font-size:35px;font-weight:normal;fill:#000;'>900</text>
<text x="893.67" y="1176.6" style='font-family:"Liberation Serif", serif;font-size:35px;font-weight:normal;fill:#000;'>150</text>
<text x="993.6" y="1176.6" style='font-family:"Liberation Serif", serif;font-size:35px;font-weight:normal;fill:#000;'>200</text>
<text x="1092.78" y="1176.6" style='font-family:"Liberation Serif", serif;font-size:35px;font-weight:normal;fill:#000;'>250</text>
<text x="1191.83" y="1176.6" style='font-family:"Liberation Serif", serif;font-size:35px;font-weight:normal;fill:#000;'>300</text>
<text x="1291" y="1176.6" style='font-family:"Liberation Serif", serif;font-size:35px;font-weight:normal;fill:#000;'>350</text>
<text x="848.05" y="857.2" style='font-family:"Liberation Serif", serif;font-size:35px;font-weight:normal;fill:#000;'>140</text>
<text x="848.05" y="936.3" style='font-family:"Liberation Serif", serif;font-size:35px;font-weight:normal;fill:#000;'>120</text>
<text x="848.05" y="1016.3" style='font-family:"Liberation Serif", serif;font-size:35px;font-weight:normal;fill:#000;'>100</text>
<text x="866.45" y="1097" style='font-family:"Liberation Serif", serif;font-size:35px;font-weight:normal;fill:#000;'>80</text>
<text x="1212" y="913.02" style='font-family:"Liberation Serif", serif;font-size:34px;font-weight:bold;fill:#000;'>*</text>
<text x="887.17" y="1584.7" style='font-family:"Liberation Serif", serif;font-size:35px;font-weight:normal;fill:#000;'>150</text>
<text x="987.85" y="1584.7" style='font-family:"Liberation Serif", serif;font-size:35px;font-weight:normal;fill:#000;'>200</text>
<text x="1087.78" y="1584.7" style='font-family:"Liberation Serif", serif;font-size:35px;font-weight:normal;fill:#000;'>250</text>
<text x="1187.58" y="1584.7" style='font-family:"Liberation Serif", serif;font-size:35px;font-weight:normal;fill:#000;'>300</text>
<text x="1287.5" y="1584.7" style='font-family:"Liberation Serif", serif;font-size:35px;font-weight:normal;fill:#000;'>350</text>
<text x="850.4" y="1258.83" style='font-family:"Liberation Serif", serif;font-size:35px;font-weight:normal;fill:#000;'>27</text>
<text x="849.9" y="1318.83" style='font-family:"Liberation Serif", serif;font-size:35px;font-weight:normal;fill:#000;'>24</text>
<text x="849.4" y="1377.72" style='font-family:"Liberation Serif", serif;font-size:35px;font-weight:normal;fill:#000;'>21</text>
<text x="850.65" y="1434.4" style='font-family:"Liberation Serif", serif;font-size:35px;font-weight:normal;fill:#000;'>18</text>
<text x="850.65" y="1490.58" style='font-family:"Liberation Serif", serif;font-size:35px;font-weight:normal;fill:#000;'>15</text>
<text x="847.3" y="1554.42" style='font-family:"Liberation Serif", serif;font-size:35px;font-weight:normal;fill:#000;'>12</text>
<text x="1212" y="1304.28" style='font-family:"Liberation Serif", serif;font-size:34px;font-weight:bold;fill:#000;'>*</text>
<text transform="translate(266.98,826.7) scale(1.0870,1)" style='font-family:"Liberation Serif", serif;font-size:39px;font-weight:bold;fill:#000;'>BDNF</text>
<text transform="translate(387.69,826.7) scale(1.0344,1)" style='font-family:"Liberation Serif", serif;font-size:39px;font-weight:bold;fill:#000;'>(pg/ml)</text>
<text transform="translate(265.38,1223.7) scale(1.0870,1)" style='font-family:"Liberation Serif", serif;font-size:39px;font-weight:bold;fill:#000;'>BDNF</text>
<text transform="translate(385.29,1223.7) scale(1.0318,1)" style='font-family:"Liberation Serif", serif;font-size:39px;font-weight:bold;fill:#000;'>(pg/ml)</text>
<text transform="translate(265.38,1632.6) scale(1.0870,1)" style='font-family:"Liberation Serif", serif;font-size:39px;font-weight:bold;fill:#000;'>BDNF</text>
<text transform="translate(385.29,1632.6) scale(1.0318,1)" style='font-family:"Liberation Serif", serif;font-size:39px;font-weight:bold;fill:#000;'>(pg/ml)</text>
<text transform="translate(977.48,828.4) scale(1.0870,1)" style='font-family:"Liberation Serif", serif;font-size:39px;font-weight:bold;fill:#000;'>BDNF</text>
<text transform="translate(1097.39,828.4) scale(1.0318,1)" style='font-family:"Liberation Serif", serif;font-size:39px;font-weight:bold;fill:#000;'>(pg/ml)</text>
<text transform="translate(975.38,1223.7) scale(1.0870,1)" style='font-family:"Liberation Serif", serif;font-size:39px;font-weight:bold;fill:#000;'>BDNF</text>
<text transform="translate(1095.29,1223.7) scale(1.0318,1)" style='font-family:"Liberation Serif", serif;font-size:39px;font-weight:bold;fill:#000;'>(pg/ml)</text>
<text transform="translate(973.28,1634.7) scale(1.0870,1)" style='font-family:"Liberation Serif", serif;font-size:39px;font-weight:bold;fill:#000;'>BDNF</text>
<text transform="translate(1093.2,1634.7) scale(1.0268,1)" style='font-family:"Liberation Serif", serif;font-size:39px;font-weight:bold;fill:#000;'>(pg/ml)</text>
<text transform="translate(64.5,628.92) rotate(-90) scale(1.0959,1)" style='font-family:"Liberation Serif", serif;font-size:39px;font-weight:bold;fill:#000;'>ETP</text>
<text transform="translate(112.4,670.8) rotate(-90) scale(1.0260,1)" style='font-family:"Liberation Serif", serif;font-size:39px;font-weight:bold;fill:#000;'>(nM<tspan style="font-weight:normal;font-size:42px" dy="-2">*</tspan><tspan dy="2">min)</tspan></text>
<text transform="translate(772.5,628.92) rotate(-90) scale(1.0959,1)" style='font-family:"Liberation Serif", serif;font-size:39px;font-weight:bold;fill:#000;'>ETP</text>
<text transform="translate(820.4,670.8) rotate(-90) scale(1.0260,1)" style='font-family:"Liberation Serif", serif;font-size:39px;font-weight:bold;fill:#000;'>(nM<tspan style="font-weight:normal;font-size:42px" dy="-2">*</tspan><tspan dy="2">min)</tspan></text>
<text transform="translate(59.4,1090.1) rotate(-90) scale(1.0650,1)" style='font-family:"Liberation Serif", serif;font-size:39px;font-weight:bold;fill:#000;'>Peak Height</text>
<text transform="translate(107.9,1114.01) rotate(-90) scale(1.0326,1)" style='font-family:"Liberation Serif", serif;font-size:39px;font-weight:bold;fill:#000;'>(nM Thrombin)</text>
<text transform="translate(769.4,1090.1) rotate(-90) scale(1.0650,1)" style='font-family:"Liberation Serif", serif;font-size:39px;font-weight:bold;fill:#000;'>Peak Height</text>
<text transform="translate(817.9,1114.01) rotate(-90) scale(1.0326,1)" style='font-family:"Liberation Serif", serif;font-size:39px;font-weight:bold;fill:#000;'>(nM Thrombin)</text>
<text transform="translate(66.5,1519.92) rotate(-90) scale(1.0415,1)" style='font-family:"Liberation Serif", serif;font-size:39px;font-weight:bold;fill:#000;'>Velocity Index</text>
<text transform="translate(114.6,1480.2) rotate(-90) scale(1.0265,1)" style='font-family:"Liberation Serif", serif;font-size:39px;font-weight:bold;fill:#000;'>(nM/min)</text>
<text transform="translate(772.5,1521.62) rotate(-90) scale(1.0415,1)" style='font-family:"Liberation Serif", serif;font-size:39px;font-weight:bold;fill:#000;'>Velocity Index</text>
<text transform="translate(820.1,1482.7) rotate(-90) scale(1.0271,1)" style='font-family:"Liberation Serif", serif;font-size:39px;font-weight:bold;fill:#000;'>(nM/min)</text>
</svg></div>
</body></html>
